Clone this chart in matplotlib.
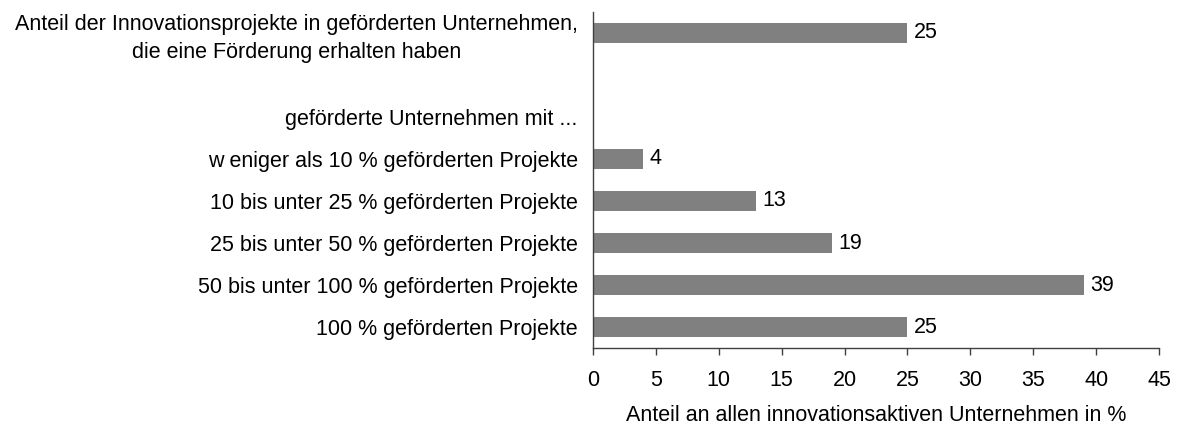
import matplotlib.pyplot as plt

plt.rcParams['font.family'] = ['Liberation Sans', 'DejaVu Sans']

# Rows from top to bottom; None marks rows without a bar
labels = [
    "Anteil der Innovationsprojekte in geförderten Unternehmen,\ndie eine Förderung erhalten haben",
    "",
    "geförderte Unternehmen mit ...",
    "w eniger als 10 % geförderten Projekte",
    "10 bis unter 25 % geförderten Projekte",
    "25 bis unter 50 % geförderten Projekte",
    "50 bis unter 100 % geförderten Projekte",
    "100 % geförderten Projekte",
]
values = [25, None, None, 4, 13, 19, 39, 25]
xticks = [0, 5, 10, 15, 20, 25, 30, 35, 40, 45]

FS = 15.5

fig = plt.figure(figsize=(11.77, 4.25), dpi=100)
ax = fig.add_axes([0.5038, 0.181, 0.4809, 0.791])

pos = list(range(len(labels)))
for y, v in zip(pos, values):
    if v is None:
        continue
    ax.barh(y, v, height=0.46, color='#808080')
    ax.text(v + 0.5, y, f"{v}", va='center', ha='left', fontsize=FS, color='black')

ax.set_ylim(len(labels) - 0.5, -0.5)
ax.set_xlim(0, 45)
ax.set_yticks(pos)
ax.set_yticklabels(labels, fontsize=FS, multialignment='center', linespacing=1.4)
ax.tick_params(axis='y', length=0, pad=11)
ax.set_xticks(xticks)
ax.tick_params(axis='x', direction='out', length=5, width=1, color='#404040', labelsize=FS, pad=11)
ax.set_xlabel("Anteil an allen innovationsaktiven Unternehmen in %", fontsize=FS, labelpad=10)

for side in ['top', 'right']:
    ax.spines[side].set_visible(False)
for side in ['left', 'bottom']:
    ax.spines[side].set_color('#404040')
    ax.spines[side].set_linewidth(1)

fig.savefig("out.png", dpi=100)
